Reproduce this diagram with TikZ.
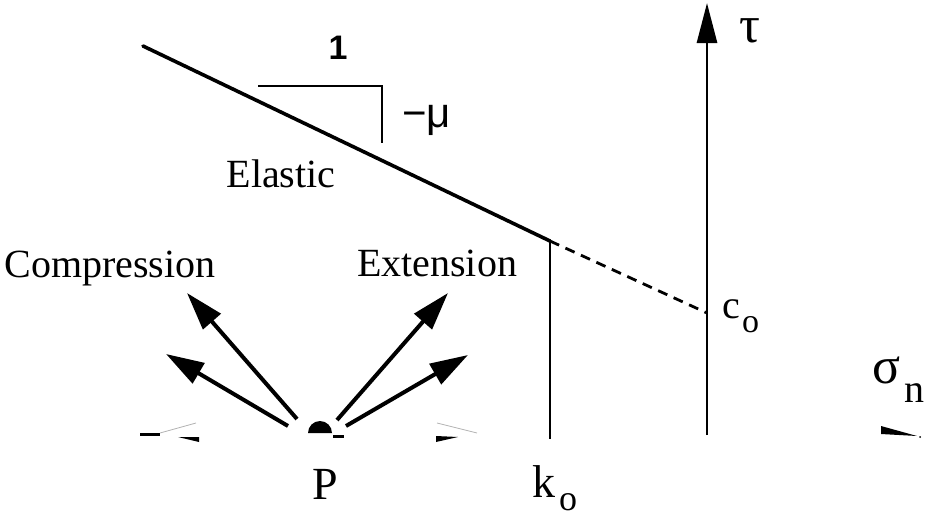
\documentclass[tikz,border=0pt]{standalone}
\usepackage{fontspec}
\setmainfont{Liberation Serif}
\newfontfamily\hsans{Liberation Sans}
\usetikzlibrary{arrows.meta}
\begin{document}
\begin{tikzpicture}[x=1pt,y=-1pt,
  lbl/.style={inner sep=0pt, font=\fontsize{40}{40}\selectfont},
  sym/.style={inner sep=0pt, anchor=base west},
  mainline/.style={line width=3.6pt, line cap=round},
  thinline/.style={line width=2.8pt},
  dashline/.style={line width=2.8pt, dash pattern=on 10pt off 7pt},
  force/.style={line width=4pt, -{Triangle[length=38pt,width=23pt]}},
  axisarrow/.style={line width=2.8pt, -{Triangle[length=40pt,width=20pt]}},
  faint/.style={line width=0.8pt, gray!60},
  bit/.style={line width=3pt}]
\useasboundingbox (0,0) rectangle (935,517);

% envelope
\coordinate (A) at (143,46);
\coordinate (B) at (550,241);
\coordinate (K) at (550,439);
\coordinate (C) at (707,313);
\coordinate (T0) at (707,435);
\coordinate (T1) at (707,3);
\draw[mainline] (A) -- (B);
\draw[thinline] (B) -- (K);
\draw[dashline] (B) -- (C);
\draw[axisarrow] (T0) -- (T1);

% slope triangle
\coordinate (S1) at (258,86);
\coordinate (S2) at (382,86);
\coordinate (S3) at (382,143);
\draw[thinline] (S1) -- (S2) -- (S3);
\node[inner sep=0pt, font=\hsans\bfseries\fontsize{34}{34}\selectfont] (one) at (338,48) {1};
\node[sym, font=\hsans\fontsize{42}{42}\selectfont] (mu) at (402,127) {−μ};

% labels
\node[lbl, anchor=base] (elastic) at (281,187) {Elastic};
\node[lbl, anchor=base] (comp) at (110,277) {Compression};
\node[lbl, anchor=base] (ext) at (437,276) {Extension};

% force arrows from P
\coordinate (c1t) at (297,419); \coordinate (c1h) at (187,293);
\coordinate (c2t) at (288,426); \coordinate (c2h) at (166,354);
\coordinate (e1t) at (337,420); \coordinate (e1h) at (448,293);
\coordinate (e2t) at (346,426); \coordinate (e2h) at (468,355);
\draw[force] (c1t) -- (c1h);
\draw[force] (c2t) -- (c2h);
\draw[force] (e1t) -- (e1h);
\draw[force] (e2t) -- (e2h);

% point P and faint horizontal axis pieces
\fill (332,433) arc[start angle=0, end angle=180, radius=12pt] -- cycle;
\coordinate (d1a) at (333,436); \coordinate (d1b) at (344,436);
\draw[bit] (d1a) -- (d1b);
\coordinate (d2a) at (140,434); \coordinate (d2b) at (160,434);
\draw[bit] (d2a) -- (d2b);
\coordinate (f1a) at (160,433); \coordinate (f1b) at (196,423);
\draw[faint] (f1a) -- (f1b);
\coordinate (f2a) at (437,423); \coordinate (f2b) at (477,433);
\draw[faint] (f2a) -- (f2b);
\fill (178,437) -- (199,437) -- (199,442) -- cycle;
\fill (436,436) -- (458,437) -- (436,442) -- cycle;
\fill (881,426) -- (917,436) -- (881,434) -- cycle;
\fill (920,437) circle[radius=1pt];

% symbols
\node[sym, font=\fontsize{46}{46}\selectfont] (P) at (312,499) {P};
\node[sym, font=\fontsize{46}{46}\selectfont] (k) at (532,497) {k};
\node[sym, font=\fontsize{36}{36}\selectfont] (ko) at (559,510) {o};
\node[sym, font=\fontsize{40}{40}\selectfont] (c) at (722,318) {c};
\node[sym, font=\fontsize{34}{34}\selectfont] (co) at (742,332) {o};
\node[sym, font=\fontsize{52}{52}\selectfont] (sigma) at (872,383) {σ};
\node[sym, font=\fontsize{40}{40}\selectfont] (n) at (904,402) {n};
\node[sym, font=\fontsize{52}{52}\selectfont] (tau) at (739,42) {τ};
\end{tikzpicture}
\end{document}
